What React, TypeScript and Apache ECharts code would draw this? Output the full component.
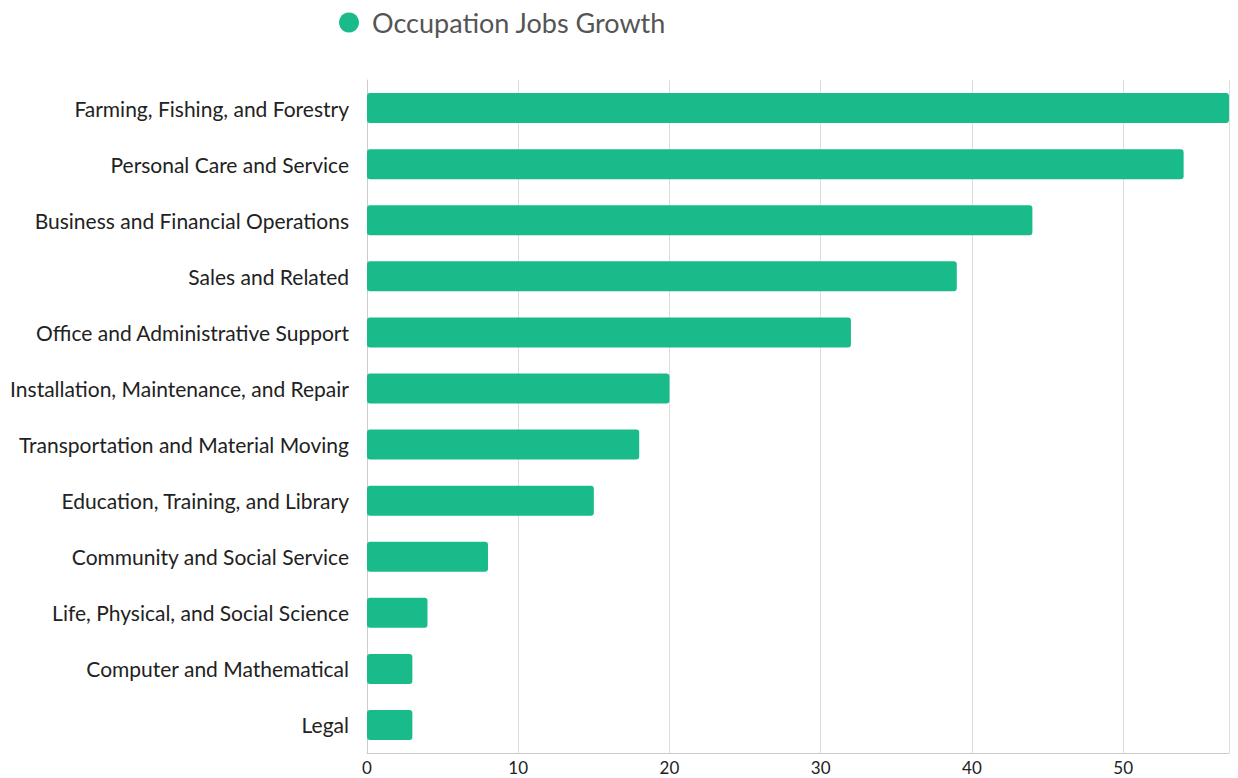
import React, { useEffect, useRef } from "react";
import * as echarts from "echarts";

const categories = [
  "Farming, Fishing, and Forestry",
  "Personal Care and Service",
  "Business and Financial Operations",
  "Sales and Related",
  "Office and Administrative Support",
  "Installation, Maintenance, and Repair",
  "Transportation and Material Moving",
  "Education, Training, and Library",
  "Community and Social Service",
  "Life, Physical, and Social Science",
  "Computer and Mathematical",
  "Legal",
];
const values = [57, 54, 44, 39, 32, 20, 18, 15, 8, 4, 3, 3];
const seriesName = "Occupation Jobs Growth";

export default function App() {
  const ref = useRef<HTMLDivElement>(null);
  useEffect(() => {
    const chart = echarts.init(ref.current!, null, { renderer: "svg" });
    chart.setOption({
      animation: false,
      textStyle: { fontFamily: "Lato" },
      legend: {
        top: 4,
        left: 334,
        icon: "circle",
        itemWidth: 20,
        itemHeight: 20,
        itemGap: 10,
        textStyle: { fontSize: 27, color: "#555", fontFamily: "Lato", padding: [0, 0, 0, 8] },
        data: [seriesName],
      },
      grid: { left: 367, right: 9, top: 80, bottom: 25, containLabel: false },
      xAxis: {
        type: "value",
        min: 0,
        max: "dataMax",
        interval: 10,
        axisLine: { show: true, lineStyle: { color: "#ccc" } },
        axisTick: { show: false },
        splitLine: { show: true, lineStyle: { color: "#ddd" } },
        axisLabel: { fontSize: 17, color: "#222", fontFamily: "Lato", margin: 6, showMaxLabel: false },
      },
      yAxis: {
        type: "category",
        inverse: true,
        data: categories,
        axisLine: { show: true, lineStyle: { color: "#ccc" } },
        axisTick: { show: false },
        axisLabel: { fontSize: 21, color: "#222", fontFamily: "Lato", margin: 18, padding: [0, 0, 4, 0] },
      },
      series: [
        {
          name: seriesName,
          type: "bar",
          data: values,
          barWidth: 30,
          itemStyle: { color: "#1ABB8A", borderRadius: 3 },
        },
      ],
    });
    return () => chart.dispose();
  }, []);
  return (
    <div
      ref={ref}
      style={{ position: "fixed", left: 0, top: 0, width: 1238, height: 778, background: "#fff" }}
    />
  );
}
